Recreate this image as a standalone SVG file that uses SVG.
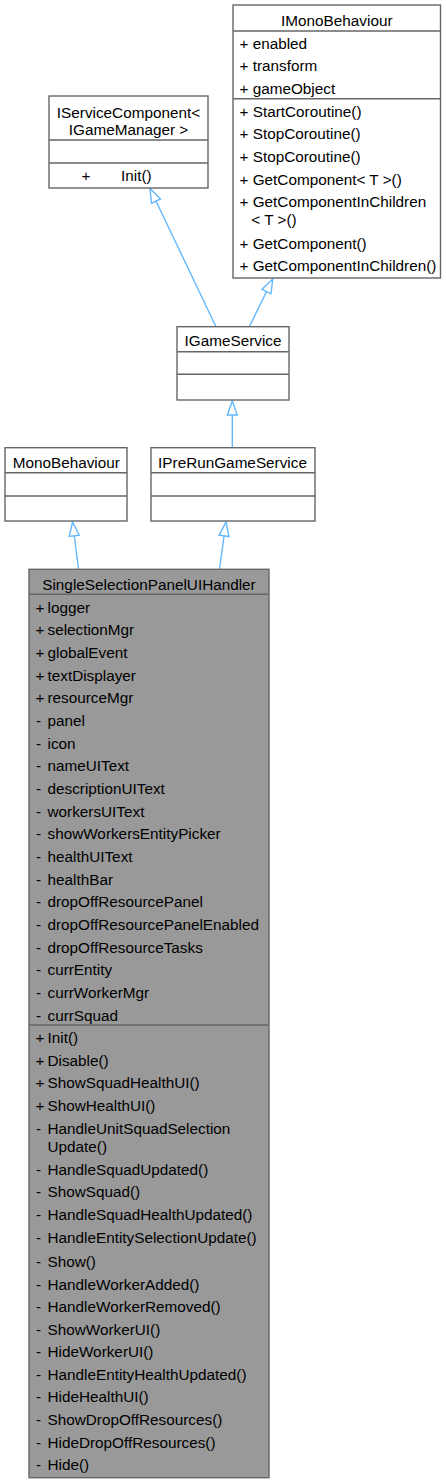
<svg xmlns="http://www.w3.org/2000/svg" width="446" height="1483" viewBox="0 0 446 1483">
<style>
text{font-family:"Liberation Sans",Arial,sans-serif;font-size:15.3px;fill:#000}
.c{text-anchor:middle}
.box{fill:#fff;stroke:#666;stroke-width:1.4}
.main{fill:#999;stroke:#666;stroke-width:1.4}
.sep{stroke:#666;stroke-width:1.4}
.edge{fill:none;stroke:#63b8ff;stroke-width:1.4;marker-end:url(#tri)}
</style>
<defs>
<marker id="tri" markerUnits="userSpaceOnUse" markerWidth="18" markerHeight="14" viewBox="0 0 18 14" refX="16" refY="7" orient="auto">
<path d="M2,2 L16,7 L2,12 Z" fill="#fff" stroke="#63b8ff" stroke-width="1.4"/>
</marker>
</defs>
<rect width="446" height="1483" fill="#fff"/>
<g id="connectors">
<path class="edge" d="M216,326.7 L150,188.5"/>
<path class="edge" d="M249.3,326.7 L272.7,279"/>
<path class="edge" d="M232.3,447.7 L232.3,401"/>
<path class="edge" d="M78.5,569 L72.5,522"/>
<path class="edge" d="M219.5,569 L226,522"/>
</g>
<g id="IMonoBehaviour">
<rect class="box" x="233" y="5" width="207.5" height="273"/>
<line class="sep" x1="233" y1="31" x2="440.5" y2="31"/>
<line class="sep" x1="233" y1="98.7" x2="440.5" y2="98.7"/>
<text class="c" x="336.8" y="26">IMonoBehaviour</text>
<text x="239.5" y="48.6">+ enabled</text>
<text x="239.5" y="70.6">+ transform</text>
<text x="239.5" y="93.6">+ gameObject</text>
<text x="239.5" y="117">+ StartCoroutine()</text>
<text x="239.5" y="139">+ StopCoroutine()</text>
<text x="239.5" y="161.5">+ StopCoroutine()</text>
<text x="239.5" y="184.6">+ GetComponent&lt; T &gt;()</text>
<text x="239.5" y="207">+ GetComponentInChildren</text>
<text x="251.3" y="224.5">&lt; T &gt;()</text>
<text x="239.5" y="248.6">+ GetComponent()</text>
<text x="239.5" y="270.5">+ GetComponentInChildren()</text>
</g>
<g id="IServiceComponent">
<rect class="box" x="49" y="96" width="159" height="92"/>
<line class="sep" x1="49" y1="140" x2="208" y2="140"/>
<line class="sep" x1="49" y1="163" x2="208" y2="163"/>
<text class="c" x="128.5" y="117.6">IServiceComponent&lt;</text>
<text class="c" x="128.5" y="135.3">IGameManager &gt;</text>
<text x="81.5" y="180.5">+</text>
<text x="121" y="180.5">Init()</text>
</g>
<g id="IGameService">
<rect class="box" x="177" y="326.7" width="112" height="73.3"/>
<line class="sep" x1="177" y1="351.7" x2="289" y2="351.7"/>
<line class="sep" x1="177" y1="374.3" x2="289" y2="374.3"/>
<text class="c" x="233" y="346.3">IGameService</text>
</g>
<g id="MonoBehaviour">
<rect class="box" x="5" y="447.7" width="122" height="73.3"/>
<line class="sep" x1="5" y1="472.7" x2="127" y2="472.7"/>
<line class="sep" x1="5" y1="496" x2="127" y2="496"/>
<text class="c" x="66.3" y="468.3">MonoBehaviour</text>
</g>
<g id="IPreRunGameService">
<rect class="box" x="151" y="447.7" width="164" height="73.3"/>
<line class="sep" x1="151" y1="472.7" x2="315" y2="472.7"/>
<line class="sep" x1="151" y1="496" x2="315" y2="496"/>
<text class="c" x="232.5" y="468.3">IPreRunGameService</text>
</g>
<g id="SingleSelectionPanelUIHandler">
<rect class="main" x="29" y="569.3" width="240" height="908.4"/>
<line class="sep" x1="29" y1="594.3" x2="269" y2="594.3"/>
<line class="sep" x1="29" y1="1025" x2="269" y2="1025"/>
<text class="c" x="149" y="589.5">SingleSelectionPanelUIHandler</text>
<g>
<text x="35.5" y="612.6">+</text><text x="47.5" y="612.6">logger</text>
<text x="35.5" y="635.3">+</text><text x="47.5" y="635.3">selectionMgr</text>
<text x="35.5" y="658">+</text><text x="47.5" y="658">globalEvent</text>
<text x="35.5" y="680.6">+</text><text x="47.5" y="680.6">textDisplayer</text>
<text x="35.5" y="703.3">+</text><text x="47.5" y="703.3">resourceMgr</text>
<text x="36" y="726">-</text><text x="47.5" y="726">panel</text>
<text x="36" y="748.7">-</text><text x="47.5" y="748.7">icon</text>
<text x="36" y="771.4">-</text><text x="47.5" y="771.4">nameUIText</text>
<text x="36" y="794">-</text><text x="47.5" y="794">descriptionUIText</text>
<text x="36" y="816.7">-</text><text x="47.5" y="816.7">workersUIText</text>
<text x="36" y="839.4">-</text><text x="47.5" y="839.4">showWorkersEntityPicker</text>
<text x="36" y="862">-</text><text x="47.5" y="862">healthUIText</text>
<text x="36" y="884.7">-</text><text x="47.5" y="884.7">healthBar</text>
<text x="36" y="907.4">-</text><text x="47.5" y="907.4">dropOffResourcePanel</text>
<text x="36" y="930.1">-</text><text x="47.5" y="930.1">dropOffResourcePanelEnabled</text>
<text x="36" y="952.8">-</text><text x="47.5" y="952.8">dropOffResourceTasks</text>
<text x="36" y="975.4">-</text><text x="47.5" y="975.4">currEntity</text>
<text x="36" y="998.1">-</text><text x="47.5" y="998.1">currWorkerMgr</text>
<text x="36" y="1020.8">-</text><text x="47.5" y="1020.8">currSquad</text>
</g>
<g>
<text x="35.5" y="1042.8">+</text><text x="47.5" y="1042.8">Init()</text>
<text x="35.5" y="1065.5">+</text><text x="47.5" y="1065.5">Disable()</text>
<text x="35.5" y="1088.2">+</text><text x="47.5" y="1088.2">ShowSquadHealthUI()</text>
<text x="35.5" y="1110.9">+</text><text x="47.5" y="1110.9">ShowHealthUI()</text>
<text x="36" y="1133.6">-</text><text x="47.5" y="1133.6">HandleUnitSquadSelection</text>
<text x="47.5" y="1151.8">Update()</text>
<text x="36" y="1174.6">-</text><text x="47.5" y="1174.6">HandleSquadUpdated()</text>
<text x="36" y="1197.3">-</text><text x="47.5" y="1197.3">ShowSquad()</text>
<text x="36" y="1220">-</text><text x="47.5" y="1220">HandleSquadHealthUpdated()</text>
<text x="36" y="1242.7">-</text><text x="47.5" y="1242.7">HandleEntitySelectionUpdate()</text>
<text x="36" y="1267">-</text><text x="47.5" y="1267">Show()</text>
<text x="36" y="1289.6">-</text><text x="47.5" y="1289.6">HandleWorkerAdded()</text>
<text x="36" y="1312">-</text><text x="47.5" y="1312">HandleWorkerRemoved()</text>
<text x="36" y="1334.6">-</text><text x="47.5" y="1334.6">ShowWorkerUI()</text>
<text x="36" y="1357.3">-</text><text x="47.5" y="1357.3">HideWorkerUI()</text>
<text x="36" y="1379.6">-</text><text x="47.5" y="1379.6">HandleEntityHealthUpdated()</text>
<text x="36" y="1402">-</text><text x="47.5" y="1402">HideHealthUI()</text>
<text x="36" y="1425.3">-</text><text x="47.5" y="1425.3">ShowDropOffResources()</text>
<text x="36" y="1448">-</text><text x="47.5" y="1448">HideDropOffResources()</text>
<text x="36" y="1470.3">-</text><text x="47.5" y="1470.3">Hide()</text>
</g>
</g>
</svg>
